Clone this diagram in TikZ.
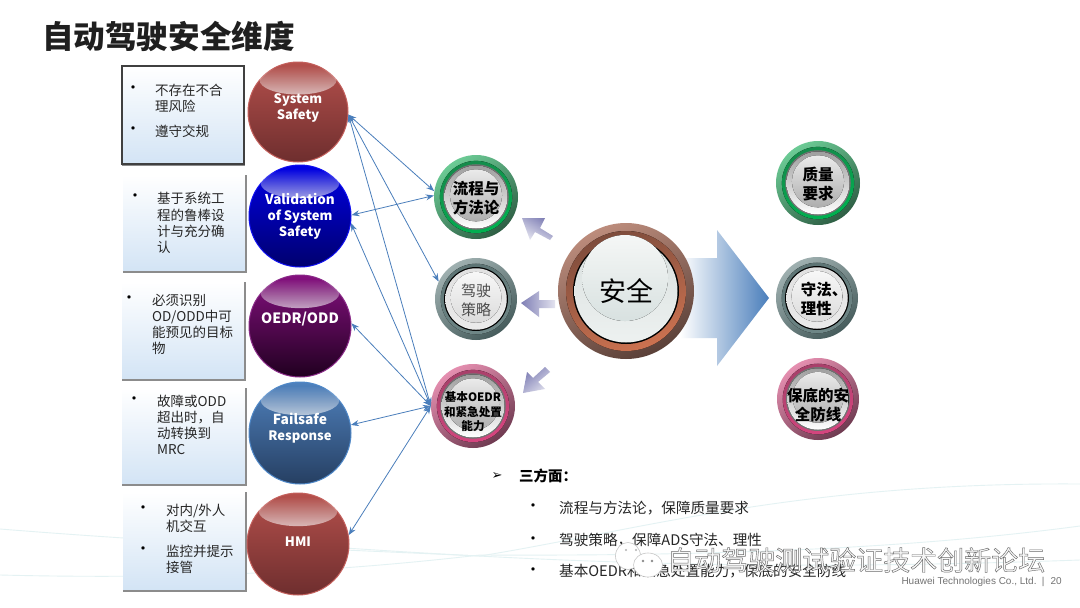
\documentclass[tikz,border=0pt]{standalone}
\usepackage{fontspec}
\setmainfont{Noto Sans CJK SC}
\newfontfamily\sansf{Liberation Sans}
\newfontfamily\symf{DejaVu Sans}
\usetikzlibrary{arrows.meta,fadings,shapes.geometric}
\definecolor{linkblue}{HTML}{4A7EBB}
\definecolor{boxlow}{HTML}{D3E4F5}
\definecolor{boxedge}{HTML}{8C8C8C}
\definecolor{bgline}{HTML}{E4F2F3}
\definecolor{txt}{HTML}{262626}
\definecolor{purplearrow}{HTML}{7F7FB5}
\definecolor{redtop}{HTML}{B5504C}\definecolor{redmid}{HTML}{A5433F}\definecolor{redlow}{HTML}{6E2E2E}\definecolor{redrim}{HTML}{C4605C}
\definecolor{blutop}{HTML}{0000E6}\definecolor{blumid}{HTML}{0000C8}\definecolor{blulow}{HTML}{00006E}\definecolor{blurim}{HTML}{1010F0}
\definecolor{purtop}{HTML}{85107F}\definecolor{purmid}{HTML}{6A0066}\definecolor{purlow}{HTML}{200020}\definecolor{purrim}{HTML}{8A2A88}
\definecolor{steeltop}{HTML}{4F81BD}\definecolor{steelmid}{HTML}{3F6C9E}\definecolor{steellow}{HTML}{263F62}\definecolor{steelrim}{HTML}{4F88C8}
\definecolor{grnlight}{HTML}{6CCB95}\definecolor{grndark}{HTML}{2E5E44}\definecolor{grnring}{HTML}{00B050}
\definecolor{slatelight}{HTML}{9FB0B0}\definecolor{slatedark}{HTML}{465C5C}\definecolor{slatering}{HTML}{6F8787}
\definecolor{pinklight}{HTML}{E58FB0}\definecolor{pinkdark}{HTML}{6E3A50}\definecolor{pinkring}{HTML}{D6457F}
\definecolor{brnlight}{HTML}{BC8C7C}\definecolor{brndark}{HTML}{5A4038}\definecolor{brnringa}{HTML}{7E4C3C}\definecolor{brnringb}{HTML}{CC7250}
\definecolor{corehi}{HTML}{D9E0DF}\definecolor{corelo}{HTML}{EDF1F0}\definecolor{corehib}{HTML}{F5F7F6}\definecolor{corelob}{HTML}{D8E1E0}
\tikzset{
  x=1pt,y=-1pt,
  cjktext/.style={font=\fontsize{13.5}{16.2}\selectfont,text=txt,align=left,anchor=west,inner sep=0pt},
  listtext/.style={cjktext,font=\fontsize{14.6}{17}\selectfont},
  dotmark/.style={font=\fontsize{16}{16}\selectfont,text=black,inner sep=0pt},
  sphere/.style={circle,inner sep=0pt,minimum size=#1},
  spheretext/.style={font=\bfseries\fontsize{13}{16}\selectfont,text=white,align=center,inner sep=0pt},
  link/.style={draw=linkblue,line width=0.8pt,{Stealth[length=8pt,width=6pt]}-{Stealth[length=8pt,width=6pt]}},
  btntext/.style={font=\bfseries\fontsize{15.5}{19}\selectfont,text=black,align=center,inner sep=0pt,yshift=-1pt},
  bgcurve/.style={draw=bgline,line width=0.9pt},
}
\newcommand{\panel}[5]{%
  \fill[top color=white,bottom color=boxlow] (#2,#3) rectangle (#4,#5);
  \draw[boxedge,line width=1.6pt] (#4+1,#3) -- (#4+1,#5+1) -- (#2,#5+1);
  \coordinate (#1) at (#2,#3);
}
\newcommand{\ball}[9]{%
  \node[sphere=#4*2pt,draw=#8,line width=1pt,top color=#5,middle color=#6,bottom color=#7] (#1) at (#2,#3) {};
  \fill[white,path fading=north,opacity=.62] (#2,#3-#4*0.64) ellipse ({#4*0.77pt} and {#4*0.29pt});
  \node[spheretext] at (#2,#3+#9) {\csname balltext#1\endcsname};
}
\newcommand{\ringbtn}[9]{%
  \node[sphere=#4*2pt,top color=#5,bottom color=#6,shading angle=35] (#1) at (#2,#3) {};
  \fill[top color=#7!55!#6,bottom color=#7,shading angle=20] (#2,#3) circle ({#4*0.86pt});
  \fill[facering] (#2,#3) circle ({#4*0.78pt});
  \fill[top color=facetop,bottom color=facebot] (#2,#3) circle ({#4*0.75pt});
  \fill[top color=domehi,bottom color=domelo] (#2,#3-#4*0.04) circle ({#4*0.62pt});
  \node[#8] (#1t) at (#2,#3) {#9};
}
\begin{document}
\begin{tikzpicture}
\useasboundingbox (0,0) rectangle (1080,608);
\fill[white] (0,0) rectangle (1080,608);
% background sweeps
\draw[bgcurve] (0,529) .. controls (200,545) and (350,550) .. (480,556) .. controls (640,530) and (800,482) .. (1080,484);
\draw[bgcurve] (0,575) .. controls (200,580) and (350,570) .. (480,555) .. controls (700,556) and (900,550) .. (1080,526);
\draw[bgcurve] (345,548) .. controls (600,565) and (800,570) .. (1080,560);

% title
\node[font=\bfseries\fontsize{31.6}{36}\selectfont,text=black!88,anchor=west,inner sep=0pt] (title) at (42,36) {自动驾驶安全维度};

% panels
\panel{pa}{122}{66}{243}{164}
\draw[black!75,line width=1.1pt] (122,66) rectangle (244,164);
\panel{pb}{123}{175}{245}{271}
\panel{pc}{122}{282}{244}{379}
\panel{pd}{122}{388}{245}{484}
\panel{pe}{123}{492}{245}{590}

\node[dotmark] (b1) at (133,90) {•};
\node[cjktext] (t1) at (155,98) {不存在不合\\理风险};
\node[dotmark] (b2) at (133,131) {•};
\node[cjktext] (t2) at (155,131) {遵守交规};
\node[dotmark] (b3) at (135,198) {•};
\node[cjktext] (t3) at (157,223) {基于系统工\\程的鲁棒设\\计与充分确\\认};
\node[dotmark] (b4) at (129,300) {•};
\node[cjktext] (t4) at (152,324.5) {必须识别\\OD/ODD中可\\能预见的目标\\物};
\node[dotmark] (b5) at (134,401) {•};
\node[cjktext] (t5) at (157,425) {故障或ODD\\超出时，自\\动转换到\\MRC};
\node[dotmark] (b6) at (143,510) {•};
\node[cjktext] (t6) at (166,518) {对内/外人\\机交互};
\node[dotmark] (b7) at (143,551) {•};
\node[cjktext] (t7) at (166,559) {监控并提示\\接管};

% spheres
\expandafter\def\csname balltextss\endcsname{System\\Safety}
\expandafter\def\csname balltextvs\endcsname{\fontsize{13.5}{16}\selectfont Validation\\of System\\Safety}
\expandafter\def\csname balltextod\endcsname{\fontsize{14.2}{16}\selectfont OEDR/ODD}
\expandafter\def\csname balltextfr\endcsname{\fontsize{13.8}{16}\selectfont Failsafe\\Response}
\expandafter\def\csname balltexthm\endcsname{HMI}
\ball{ss}{298}{112}{50}{redtop}{redmid}{redlow}{redrim}{-4}
\ball{vs}{300}{216}{51}{blutop}{blumid}{blulow}{blurim}{0}
\ball{od}{300}{326}{51}{purtop}{purmid}{purlow}{purrim}{-7}
\ball{fr}{300}{433}{51}{steeltop}{steelmid}{steellow}{steelrim}{-5}
\ball{hm}{298}{544}{51}{redtop}{redmid}{redlow}{redrim}{-2}

% buttons with a darker face
\colorlet{facering}{black!55}\colorlet{facetop}{black!38}\colorlet{facebot}{white}
\colorlet{domehi}{black!8}\colorlet{domelo}{black!32}
\ringbtn{flow}{476}{197}{42}{grnlight}{grndark}{grnring}{btntext}{流程与\\方法论}
\ringbtn{qual}{818}{183}{42}{grnlight}{grndark}{grnring}{btntext}{质量\\要求}
\ringbtn{base}{473}{406}{42}{pinklight}{pinkdark}{pinkring}{btntext,font=\bfseries\fontsize{11.6}{14.5}\selectfont,yshift=-5pt}{基本OEDR\\和紧急处置\\能力}
\ringbtn{floor}{818}{399}{41}{pinklight}{pinkdark}{pinkring}{btntext,yshift=-5pt}{保底的安\\全防线}
% buttons with a pale face
\colorlet{facering}{black}\colorlet{facetop}{black!12}\colorlet{facebot}{white!92!black}
\colorlet{domehi}{white!97!black}\colorlet{domelo}{black!14}
\ringbtn{drive}{476}{299}{41}{slatelight}{slatedark}{slatering}{btntext,font=\fontsize{15}{19}\selectfont,text=black!70}{驾驶\\策略}
\ringbtn{law}{817}{298}{41}{slatelight}{slatedark}{slatering}{btntext,align=left,xshift=7pt}{守法、\\理性}

% block arrows
\shade[left color=white,right color=linkblue]
  (680,258) -- (717,258) -- (717,230) -- (769,298) -- (717,366) -- (717,338) -- (680,338) -- cycle;
\shade[left color=purplearrow,right color=purplearrow!22!white,shading angle=-30]
  (522,218) -- (545,218) -- (540,228) -- (553,236) -- (550,240) -- (535,232) -- (530,240) -- cycle;
\shade[left color=purplearrow,right color=purplearrow!22!white]
  (521,303) -- (539,291) -- (539,300) -- (555,300) -- (555,308) -- (539,308) -- (539,317) -- cycle;
\shade[left color=purplearrow,right color=purplearrow!25!white,shading angle=40]
  (523,393) -- (545,389) -- (538,382) -- (550,372) -- (545,367) -- (533,378) -- (527,372) -- cycle;

% centre button
\node[sphere=136pt,top color=brnlight,bottom color=brndark,shading angle=25] (core) at (626,291) {};
\fill[top color=brnringa,bottom color=brnringb,shading angle=20] (626,291) circle (60pt);
\fill[black] (626,291) circle (53pt);
\fill[top color=corehi,bottom color=corelo] (626,291) circle (51.5pt);
\fill[top color=corehib,bottom color=corelob] (625,278) circle (43pt);
\node[font=\fontsize{27}{30}\selectfont,text=black,inner sep=0pt] (coret) at (626,291) {安全};

% connectors
\draw[link] (ss.-3) -- (flow.172);
\draw[link] (ss.-3) -- (drive.155);
\draw[link] (ss.-3) -- (base.180);
\draw[link] (vs.1) -- (flow.178);
\draw[link] (vs.-8) -- (base.180);
\draw[link] (od.3) -- (base.180);
\draw[link] (fr.9) -- (base.180);
\draw[link] (hm.10) -- (base.180);

% lower list
\node[font=\symf\fontsize{13}{14}\selectfont,text=black,inner sep=0pt] (arrowmark) at (497,476) {➢};
\node[cjktext,font=\bfseries\fontsize{14.5}{16}\selectfont,text=black] (head) at (519,476) {三方面：};
\node[dotmark] (l1) at (533,508) {•};
\node[listtext] (lt1) at (559,508) {流程与方法论，保障质量要求};
\node[dotmark] (l2) at (533,541) {•};
\node[listtext] (lt2) at (559,540) {驾驶策略，保障ADS守法、理性};
\node[dotmark] (l3) at (533,572) {•};
\node[listtext] (lt3) at (559,571) {基本OEDR和紧急处置能力，保底的安全防线};

% footer
\node[font=\sansf\fontsize{10}{11}\selectfont,text=black!55,anchor=east,inner sep=0pt] (foot) at (1062,582) {Huawei Technologies Co., Ltd. \,|\, \,20};

% watermark
\fill[white,draw=black!22,line width=.6pt] (628,556) ellipse (12.5pt and 13.5pt);
\fill[white,draw=black!22,line width=.6pt] (648,565) ellipse (14.5pt and 12pt);
\fill[black!45] (643,561) circle (1.4pt) (652,561) circle (1.4pt);
\fill[black!30] (626,550) circle (1.2pt) (636,550) circle (1.2pt);
\node[font=\fontsize{27}{30}\selectfont,inner sep=0pt,anchor=west,text=white] (mark) at (667,560)
  {\special{pdf:code q 2 Tr 0.45 w 0.42 0.42 0.42 RG 0.97 0.97 0.97 rg}自动驾驶测试验证技术创新论坛\special{pdf:code Q}};
\end{tikzpicture}
\end{document}
